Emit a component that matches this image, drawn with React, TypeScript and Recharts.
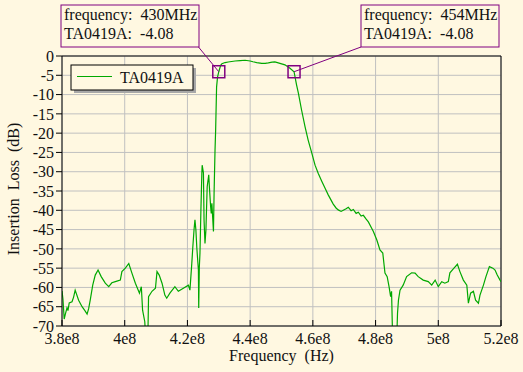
import React from "react";
import {
  LineChart,
  Line,
  XAxis,
  YAxis,
  CartesianGrid,
  ReferenceLine,
  ReferenceDot,
} from "recharts";

const SERIES_NAME = "TA0419A";

// frequency in MHz, insertion loss in dB
const freqMHz = [
  380.0, 380.3, 380.7, 381.05, 381.6, 381.9, 382.3, 383.2, 383.7, 384.2,
  385.3, 386.4, 387.3, 388.0, 388.5, 389.0, 389.8, 390.6, 391.5, 392.5,
  393.8, 394.9, 395.9, 397.0, 398.6, 399.1, 400.2, 401.3, 402.3, 403.4,
  404.7, 405.3, 405.7, 406.4, 406.6, 407.4, 407.6, 408.7, 409.8, 410.3,
  411.0, 411.9, 412.8, 413.4, 414.4, 416.0, 417.1, 418.7, 420.3, 420.8,
  421.4, 421.7, 422.1, 422.4, 422.7, 423.0, 423.5, 423.6, 423.8, 424.0,
  424.3, 424.6, 424.7, 425.1, 425.3, 425.6, 425.9, 426.3, 426.8, 427.0,
  427.4, 427.6, 427.8, 428.3, 428.5, 428.8, 429.0, 429.3, 429.6, 430.0,
  430.6, 431.0, 432.0, 433.0, 435.2, 436.8, 438.4, 440.0, 440.9, 442.1,
  443.7, 444.8, 445.8, 447.0, 447.9, 449.5, 451.1, 452.7, 454.0, 454.8,
  455.4, 456.4, 457.5, 458.5, 459.6, 460.7, 461.7, 462.8, 463.9, 464.9,
  466.5, 467.4, 468.1, 469.0, 469.7, 470.6, 471.3, 472.2, 472.9, 473.8,
  474.5, 475.4, 476.1, 477.0, 477.7, 478.8, 479.3, 480.4, 481.4, 482.3,
  483.0, 483.7, 484.3, 484.8, 485.1, 485.4, 486.8, 487.0, 487.3, 487.8,
  488.8, 489.9, 491.5, 492.6, 493.6, 495.2, 496.8, 497.9, 499.0, 500.0,
  501.1, 502.1, 503.2, 503.7, 505.0, 506.1, 506.9, 508.0, 509.1, 509.6,
  510.3, 511.2, 511.9, 512.8, 513.3, 514.4, 515.2, 516.3, 517.4, 518.1,
  518.8, 519.7, 520.0,
];

const lossDb = [
  -60.9, -63.0, -68.2, -67.0, -65.3, -66.0, -64.0, -63.7, -62.5, -60.7,
  -63.3, -65.0, -66.0, -66.9, -65.5, -63.3, -59.4, -56.8, -55.5, -57.2,
  -58.9, -59.8, -58.8, -58.5, -58.1, -55.9, -55.0, -53.8, -56.3, -58.9,
  -61.5, -59.8, -65.9, -68.9, -72.0, -72.0, -62.4, -61.0, -60.2, -55.9,
  -56.8, -58.9, -62.0, -62.8, -61.5, -59.8, -61.0, -60.2, -59.4, -60.7,
  -53.7, -49.8, -45.1, -42.5, -45.1, -49.8, -55.5, -65.3, -54.6, -51.1,
  -39.9, -30.4, -28.3, -30.3, -42.5, -48.6, -45.1, -33.9, -30.8, -33.9,
  -39.1, -40.8, -38.2, -45.5, -35.6, -24.4, -19.2, -8.0, -5.5, -4.08,
  -2.4, -2.0, -1.7, -1.55, -1.3, -1.2, -1.1, -1.3, -1.5, -1.7,
  -1.9, -1.9, -1.8, -1.6, -1.55, -1.9, -2.3, -3.2, -4.08, -7.5,
  -9.7, -14.0, -18.3, -21.8, -25.0, -28.3, -30.4, -32.4, -34.3, -36.0,
  -38.4, -39.4, -39.9, -40.3, -40.0, -39.6, -39.2, -40.1, -39.8, -40.8,
  -40.5, -41.5, -41.3, -42.3, -43.0, -44.7, -45.5, -47.7, -50.3, -51.1,
  -56.3, -57.2, -59.8, -62.4, -61.0, -72.0, -72.0, -66.7, -63.3, -60.7,
  -59.4, -57.2, -56.2, -56.3, -57.2, -58.1, -58.5, -59.4, -58.1, -59.8,
  -58.5, -58.9, -58.5, -56.2, -55.0, -54.0, -55.9, -58.1, -59.4, -64.1,
  -61.5, -61.0, -63.3, -64.1, -62.0, -59.4, -57.2, -54.6, -55.0, -55.5,
  -56.8, -58.1, -58.5,
];

const xTicks = [380, 400, 420, 440, 460, 480, 500, 520];
const xTickLabels = ["3.8e8", "4e8", "4.2e8", "4.4e8", "4.6e8", "4.8e8", "5e8", "5.2e8"];
const yTicks = [0, -5, -10, -15, -20, -25, -30, -35, -40, -45, -50, -55, -60, -65, -70];

const markerFreqs = [430, 454];
const markerValues = [-4.08, -4.08];

const data = freqMHz.map((f, i) => ({ f, loss: lossDb[i] }));

const FONT = "'Liberation Serif', 'Times New Roman', serif";
const BG = "#fff8e1";
const PURPLE = "#800080";
const GREEN = "#00a800";

const boxes = [
  { x: 61, y: 5, w: 138, h: 42, cornerX: 198.5 },
  { x: 361, y: 5, w: 138, h: 42, cornerX: 361 },
];

const XTick = (props: any) => {
  const { x, y, index } = props;
  return (
    <g>
      <line x1={x} x2={x} y1={y} y2={y - 6} stroke="#000" />
      <text x={x} y={y + 18} textAnchor="middle" fontSize={16} fontFamily={FONT} fill="#111">
        {xTickLabels[index]}
      </text>
    </g>
  );
};

const makeMarker = (i: number) => (props: any) => {
  const { cx, cy } = props;
  const b = boxes[i];
  return (
    <g>
      <line x1={b.cornerX} y1={b.y + b.h} x2={cx} y2={cy} stroke={PURPLE} />
      <rect x={cx - 6} y={cy - 6} width={12} height={12} fill="none" stroke={PURPLE} strokeWidth={1.5} />
      <rect x={b.x} y={b.y} width={b.w} height={b.h} fill={BG} stroke={PURPLE} />
      <text x={b.x + 3} y={b.y + 15} fontSize={16} fontFamily={FONT} fill="#111" style={{ whiteSpace: "pre" }}>
        {`frequency:  ${markerFreqs[i]}MHz`}
      </text>
      <text x={b.x + 3} y={b.y + 34} fontSize={16} fontFamily={FONT} fill="#111" style={{ whiteSpace: "pre" }}>
        {`${SERIES_NAME}:  ${markerValues[i].toFixed(2)}`}
      </text>
    </g>
  );
};

const LegendBox = () => (
  <g>
    <rect x={74} y={68} width={122} height={25} fill="#a8a8a8" />
    <rect x={71} y={65} width={122} height={25} fill={BG} stroke="#000" />
    <line x1={77} x2={112} y1={76.5} y2={76.5} stroke={GREEN} strokeWidth={1.2} />
    <text x={120} y={83} fontSize={16} fontFamily={FONT} fill="#111">
      {SERIES_NAME}
    </text>
  </g>
);

export default function App() {
  return (
    <div style={{ position: "absolute", left: 0, top: 0, width: 523, height: 372, background: BG }}>
      <LineChart
        width={523}
        height={372}
        data={data}
        margin={{ top: 56, right: 22, left: 0, bottom: 0 }}
      >
        <CartesianGrid stroke="#c0c0c0" />
        <XAxis
          dataKey="f"
          type="number"
          domain={[380, 520]}
          ticks={xTicks}
          height={46}
          tickSize={0}
          tickMargin={0}
          tick={<XTick />}
          axisLine={{ stroke: "#000" }}
          tickLine={false}
          allowDataOverflow
        />
        <YAxis
          type="number"
          domain={[-70, 0]}
          ticks={yTicks}
          width={62}
          tickSize={6}
          tickMargin={2}
          interval={0}
          tick={{ fontSize: 16, fontFamily: FONT, fill: "#111" }}
          axisLine={{ stroke: "#000" }}
          tickLine={{ stroke: "#000" }}
          allowDataOverflow
        />
        <ReferenceLine y={0} stroke="#000" />
        <ReferenceLine x={520} stroke="#000" />
        <Line
          type="linear"
          dataKey="loss"
          name={SERIES_NAME}
          stroke={GREEN}
          strokeWidth={1.2}
          dot={false}
          isAnimationActive={false}
        />
        {markerFreqs.map((f, i) => (
          <ReferenceDot key={f} x={f} y={markerValues[i]} r={6} shape={makeMarker(i)} ifOverflow="visible" />
        ))}
        <LegendBox />
        <text x={281.5} y={361} textAnchor="middle" fontSize={16} fontFamily={FONT} fill="#111" style={{ whiteSpace: "pre" }}>
          Frequency  (Hz)
        </text>
        <text
          x={19}
          y={189}
          transform="rotate(-90 19 189)"
          textAnchor="middle"
          fontSize={16}
          fontFamily={FONT}
          fill="#111"
          style={{ whiteSpace: "pre" }}
        >
          Insertion  Loss  (dB)
        </text>
      </LineChart>
    </div>
  );
}
